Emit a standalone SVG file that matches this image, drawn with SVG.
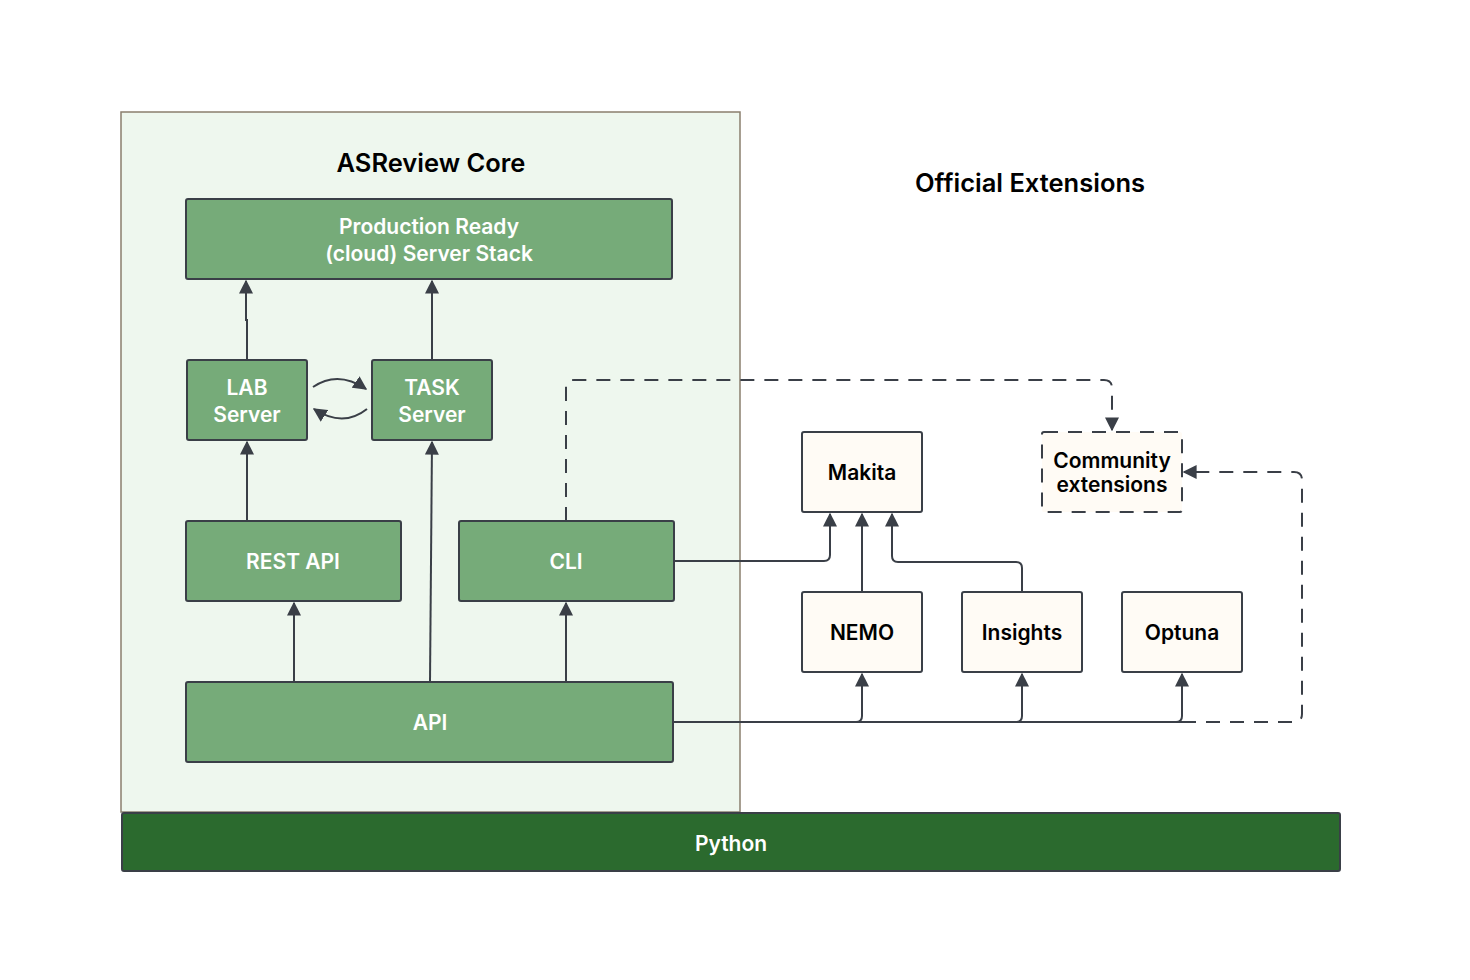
<svg xmlns="http://www.w3.org/2000/svg" width="1470" height="980" viewBox="0 0 1470 980">
<style>
text{font-family:Inter,"Liberation Sans",sans-serif;font-weight:600;text-anchor:middle;dominant-baseline:central}
.g rect{fill:#76ab79;stroke:#3a3f47;stroke-width:2}
.g text{fill:#fff;font-size:21px}
.e rect{fill:#fffbf5;stroke:#3a3f47;stroke-width:2}
.e text{fill:#000;font-size:21px}
.c path{fill:none;stroke:#3a3f47;stroke-width:2}
.d{stroke-dasharray:14 10}
</style>
<defs><marker id="a" viewBox="0 0 10 10" refX="9" refY="5" markerWidth="7" markerHeight="7" orient="auto"><path d="M0,0L10,5L0,10z" fill="#3a3f47"/></marker></defs>
<rect x="121" y="112" width="619" height="700" fill="#eef7ee" stroke="#8a7f6e" stroke-width="1.5"/>
<text x="431" y="162" font-size="25.5" fill="#000">ASReview Core</text>
<text x="1030" y="182" font-size="25.5" fill="#000">Official Extensions</text>
<g id="python"><rect x="122" y="813" width="1218" height="58" rx="2" fill="#2b6a2e" stroke="#3a3f47" stroke-width="2"/><text x="731" y="843" fill="#fff" font-size="21">Python</text></g>
<g id="prod" class="g"><rect x="186" y="199" width="486" height="80" rx="2"/><text x="429" y="226">Production Ready</text><text x="429" y="253">(cloud) Server Stack</text></g>
<g id="lab" class="g"><rect x="187" y="360" width="120" height="80" rx="2"/><text x="247" y="387">LAB</text><text x="247" y="414">Server</text></g>
<g id="task" class="g"><rect x="372" y="360" width="120" height="80" rx="2"/><text x="432" y="387">TASK</text><text x="432" y="414">Server</text></g>
<g id="rest" class="g"><rect x="186" y="521" width="215" height="80" rx="2"/><text x="293" y="561">REST API</text></g>
<g id="cli" class="g"><rect x="459" y="521" width="215" height="80" rx="2"/><text x="566" y="561">CLI</text></g>
<g id="api" class="g"><rect x="186" y="682" width="487" height="80" rx="2"/><text x="430" y="722">API</text></g>
<g id="makita" class="e"><rect x="802" y="432" width="120" height="80" rx="2"/><text x="862" y="472">Makita</text></g>
<g id="community" class="e"><rect x="1042" y="432" width="140" height="80" rx="2" class="d"/><text x="1112" y="460" font-size="19.5">Community</text><text x="1112" y="484" font-size="19.5">extensions</text></g>
<g id="nemo" class="e"><rect x="802" y="592" width="120" height="80" rx="2"/><text x="862" y="632">NEMO</text></g>
<g id="insights" class="e"><rect x="962" y="592" width="120" height="80" rx="2"/><text x="1022" y="632">Insights</text></g>
<g id="optuna" class="e"><rect x="1122" y="592" width="120" height="80" rx="2"/><text x="1182" y="632">Optuna</text></g>
<g class="c">
<path d="M247,360V320H246V281" marker-end="url(#a)"/>
<path d="M432,360V281" marker-end="url(#a)"/>
<path d="M247,521V442" marker-end="url(#a)"/>
<path d="M430,682L432,442" marker-end="url(#a)"/>
<path d="M294,682V603" marker-end="url(#a)"/>
<path d="M566,682V603" marker-end="url(#a)"/>
<path d="M313,387Q338,370 366,389" marker-end="url(#a)"/>
<path d="M367,409Q343,428 314,409" marker-end="url(#a)"/>
<path d="M674,561H824Q830,561 830,555V514" marker-end="url(#a)"/>
<path d="M862,592V514" marker-end="url(#a)"/>
<path d="M1022,592V568Q1022,562 1016,562H898Q892,562 892,556V514" marker-end="url(#a)"/>
<path d="M673,722H1182" />
<path d="M856,722Q862,722 862,716V674" marker-end="url(#a)"/>
<path d="M1016,722Q1022,722 1022,716V674" marker-end="url(#a)"/>
<path d="M1176,722Q1182,722 1182,716V674" marker-end="url(#a)"/>
<path class="d" d="M1182,722H1294Q1302,722 1302,714V480Q1302,472 1294,472H1184" marker-end="url(#a)"/>
<path class="d" d="M566,521V388Q566,380 574,380H1104Q1112,380 1112,388V430" marker-end="url(#a)"/>
</g>
</svg>
